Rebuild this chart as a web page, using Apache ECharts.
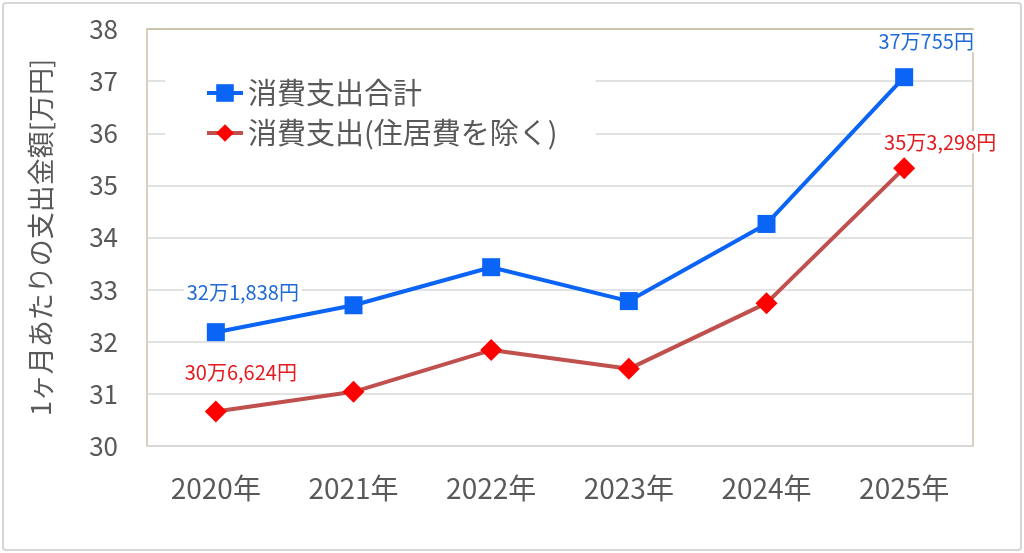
<!DOCTYPE html>
<html>
<head>
<meta charset="UTF-8">
<script src="https://cdn.jsdelivr.net/npm/echarts@6/dist/echarts.min.js"></script>
<style>
  html, body { margin: 0; padding: 0; background: #fff; }
  #main { width: 1024px; height: 553px; }
  #frame {
    position: absolute; left: 2px; top: 2px; width: 1016px; height: 545px;
    border: 2px solid #d6d6d6; border-radius: 4px; pointer-events: none;
  }
</style>
</head>
<body>
<div id="main"></div>
<div id="frame"></div>
<script>
// data
var years = ['2020年', '2021年', '2022年', '2023年', '2024年', '2025年'];
var totalSpend = [32.1838, 32.70, 33.43, 32.78, 34.26, 37.0755];
var spendNoHousing = [30.6624, 31.04, 31.84, 31.48, 32.74, 35.3298];
var totalLabels = ['32万1,838円', '', '', '', '', '37万755円'];
var noHousingLabels = ['30万6,624円', '', '', '', '', '35万3,298円'];
var seriesNames = ['消費支出合計', '消費支出(住居費を除く)'];

var FONT = '"Noto Sans CJK JP", "Noto Sans", sans-serif';

// label offsets per point (only first/last shown)
function withLabels(values, labels, color, offsets) {
  return values.map(function (v, i) {
    if (!labels[i]) return v;
    return {
      value: v,
      label: {
        show: true,
        formatter: labels[i],
        position: 'top',
        distance: 4,
        offset: offsets[i],
        color: color,
        fontFamily: FONT,
        fontSize: 20,
        backgroundColor: '#fff',
        padding: [1, 3]
      }
    };
  });
}

var myChart = echarts.init(document.getElementById('main'));
var option = {
  animation: false,
  textStyle: { fontFamily: FONT },
  grid: { left: 147, right: 51, top: 29, bottom: 107, show: true, borderColor: '#c9c1a5', borderWidth: 1.5 },
  legend: {
    orient: 'vertical',
    left: 165,
    top: 66,
    padding: [12, 38, 12, 40],
    backgroundColor: '#fff',
    itemWidth: 36,
    itemHeight: 22,
    itemGap: 10,
    lineStyle: { width: 4 },
    textStyle: { fontFamily: FONT, fontSize: 29, color: '#595959', lineHeight: 30 },
    data: seriesNames
  },
  xAxis: {
    type: 'category',
    data: years,
    boundaryGap: true,
    axisLine: { lineStyle: { color: '#d9d9d9', width: 1.5 } },
    axisTick: { show: false },
    axisLabel: { fontFamily: FONT, fontSize: 28, color: '#595959', margin: 28 }
  },
  yAxis: {
    type: 'value',
    min: 30,
    max: 38,
    interval: 1,
    name: '1ヶ月あたりの支出金額[万円]',
    nameLocation: 'middle',
    nameRotate: 90,
    nameGap: 93,
    nameTextStyle: { fontFamily: FONT, fontSize: 27, color: '#595959' },
    axisLine: { show: false },
    axisTick: { show: false },
    axisLabel: { fontFamily: FONT, fontSize: 26, color: '#595959', margin: 29 },
    splitLine: { lineStyle: { color: ['#d9d9d9', '#d9d9d9', '#d9d9d9', '#d9d9d9', '#d9d9d9', '#d9d9d9', '#d9d9d9', '#d9d9d9', '#c9c1a5'], width: 1.5 } }
  },
  series: [
    {
      name: seriesNames[0],
      type: 'line',
      data: withLabels(totalSpend, totalLabels, '#1f6ad6', [[27, -16], 0, 0, 0, 0, [22, -12]]),
      symbol: 'rect',
      symbolSize: 18,
      itemStyle: { color: '#0a64f5' },
      lineStyle: { color: '#0a64f5', width: 4 },
      z: 3
    },
    {
      name: seriesNames[1],
      type: 'line',
      data: withLabels(spendNoHousing, noHousingLabels, '#e51a1f', [[25, -13], 0, 0, 0, 0, [36, 0]]),
      symbol: 'diamond',
      symbolSize: 22,
      itemStyle: { color: '#ff0000' },
      lineStyle: { color: '#c0504d', width: 4 },
      z: 2
    }
  ]
};
myChart.setOption(option);
</script>
</body>
</html>
